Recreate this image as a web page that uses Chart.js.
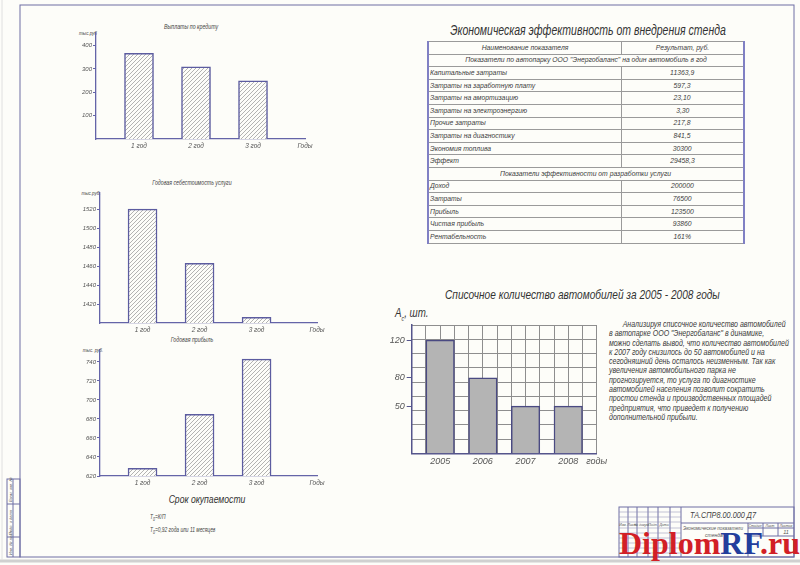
<!DOCTYPE html>
<html>
<head>
<meta charset="utf-8">
<script src="https://cdn.jsdelivr.net/npm/chart.js@4.4.1/dist/chart.umd.min.js"></script>
<style>
  body { margin: 0; background: #fff; }
  #sheet { position: relative; width: 800px; height: 565px; background: #fdfdf9; overflow: hidden;
    font-family: 'Liberation Sans', Arial, sans-serif; font-style: italic; color: #444; }
  .t { position: absolute; white-space: nowrap; line-height: 1; }
  .c { transform: translateX(-50%) scaleX(0.75); }
  .n { transform: scaleX(0.75); transform-origin: left center; }
  canvas { position: absolute; }
  #tbl { position: absolute; left: 427px; top: 41px; width: 318px; border-collapse: collapse; font-size: 8px; color: #3c3c3c; }
  #tbl td { height: 11.6px; padding: 0 1px; border: 0.6px solid #9a9a9a; line-height: 1; white-space: nowrap; }
  #tbl td span { display: inline-block; transform: scaleX(0.85); transform-origin: left center; }
  #tbl td.v, #tbl td.h { text-align: center; }
  #tbl td.v span, #tbl td.h span { transform-origin: center center; }
  #tbl tr td:first-child { border-left: 2px solid #8080c4; width: 190px; }
  #tbl tr td:last-child { border-right: 2px solid #8080c4; }
  #txt { position: absolute; left: 609px; top: 320px; font-size: 8.4px; line-height: 9.3px; color: #3a3a3a;
    white-space: nowrap; transform: scaleX(0.84); transform-origin: left top; }
</style>
</head>
<body>
<div id="sheet">
  <svg width="800" height="565" style="position:absolute;left:0;top:0">
    <g fill="none" stroke="#6e6ea4" stroke-width="1">
      <rect x="20" y="5" width="774" height="552"/>
      <rect x="7" y="479" width="13" height="78"/>
      <line x1="13" y1="479" x2="13" y2="557"/>
      <line x1="7" y1="504" x2="20" y2="504"/>
      <line x1="7" y1="537" x2="20" y2="537"/>
      <rect x="619" y="507" width="175" height="50"/>
      <line x1="628" y1="507" x2="628" y2="557"/>
      <line x1="637" y1="507" x2="637" y2="557"/>
      <line x1="648" y1="507" x2="648" y2="557"/>
      <line x1="658" y1="507" x2="658" y2="557"/>
      <line x1="670" y1="507" x2="670" y2="557"/>
      <line x1="681" y1="507" x2="681" y2="557"/>
      <line x1="681" y1="523" x2="794" y2="523"/>
      <line x1="748" y1="523" x2="748" y2="557"/>
      <line x1="763" y1="523" x2="763" y2="536"/>
      <line x1="778" y1="523" x2="778" y2="536"/>
      <line x1="748" y1="528" x2="794" y2="528"/>
      <line x1="748" y1="536" x2="794" y2="536"/>
    </g>
    <g stroke="#8a8ab0" stroke-width="0.5">
      <line x1="619" y1="512" x2="681" y2="512"/>
      <line x1="619" y1="517" x2="681" y2="517"/>
      <line x1="619" y1="522" x2="681" y2="522"/>
      <line x1="619" y1="528" x2="681" y2="528"/>
      <line x1="619" y1="533" x2="681" y2="533"/>
      <line x1="619" y1="538" x2="681" y2="538"/>
      <line x1="619" y1="543" x2="681" y2="543"/>
      <line x1="619" y1="548" x2="681" y2="548"/>
      <line x1="619" y1="553" x2="681" y2="553"/>
    </g>
    <line x1="0" y1="561" x2="800" y2="561" stroke="#d0d0d0" stroke-width="3"/>
    <line x1="2" y1="0" x2="2" y2="560" stroke="#e0e0e0" stroke-width="1"/>
    <g font-family="Liberation Sans, sans-serif" font-style="italic" fill="#555">
      <text x="723" y="518" font-size="8.5" text-anchor="middle" fill="#444" textLength="66" lengthAdjust="spacingAndGlyphs">ТА.СПР8.00.000 Д7</text>
      <text x="683" y="530" font-size="5" textLength="60" lengthAdjust="spacingAndGlyphs">Экономические показатели</text>
      <text x="705" y="537" font-size="5">стенда</text>
      <text x="755" y="527" font-size="3.5" text-anchor="middle">Стадия</text>
      <text x="770" y="527" font-size="3.5" text-anchor="middle">Лист</text>
      <text x="786" y="527" font-size="3.5" text-anchor="middle">Листов</text>
      <text x="786" y="534" font-size="5.5" text-anchor="middle">11</text>
      <text x="623" y="526" font-size="3.5" text-anchor="middle">Изм.</text>
      <text x="632" y="526" font-size="3.5" text-anchor="middle">Лист</text>
      <text x="642" y="526" font-size="3.5" text-anchor="middle">№ докум.</text>
      <text x="653" y="526" font-size="3.5" text-anchor="middle">Подп.</text>
      <text x="664" y="526" font-size="3.5" text-anchor="middle">Дата</text>
      <text transform="translate(12,555) rotate(-90)" font-size="4">Инв. № подл.</text>
      <text transform="translate(12,535) rotate(-90)" font-size="4">Подп. и дата</text>
      <text transform="translate(12,502) rotate(-90)" font-size="4">Взам. инв. №</text>
    </g>
  </svg>

  <!-- left column titles -->
  <div class="t c" style="left:191px;top:23px;font-size:7px">Выплаты по кредиту</div>
  <div class="t c" style="left:88px;top:30px;font-size:6px">тыс.руб</div>
  <div class="t c" style="left:192px;top:179px;font-size:7px">Годовая себестоимость услуги</div>
  <div class="t c" style="left:91px;top:190px;font-size:6px">тыс.руб.</div>
  <div class="t c" style="left:192px;top:336px;font-size:7px">Годовая прибыль</div>
  <div class="t c" style="left:93px;top:347px;font-size:6px">тыс. руб.</div>
  <div class="t c" style="left:207px;top:494px;font-size:11.5px;color:#333">Срок окупаемости</div>
  <div class="t n" style="left:150px;top:514px;font-size:6.5px">Т<sub style="font-size:4.5px">0</sub>=К/П</div>
  <div class="t n" style="left:150px;top:527px;font-size:6.5px">Т<sub style="font-size:4.5px">0</sub>=0,92 года или 11 месяцев</div>

  <!-- table -->
  <div class="t c" style="left:588px;top:23px;font-size:14px;color:#333">Экономическая эффективность от внедрения стенда</div>
  <table id="tbl"></table>

  <!-- fleet chart texts -->
  <div class="t n" style="left:445px;top:288px;font-size:13.5px;color:#333">Списочное количество автомобилей за 2005 - 2008 годы</div>
  <div class="t n" style="left:395px;top:306px;font-size:13px;color:#333">А<sub style="font-size:7px">с</sub>, шт.</div>
  <div id="txt">
    &nbsp;&nbsp;&nbsp;&nbsp;&nbsp;&nbsp;&nbsp;Анализируя списочное количество автомобилей<br>
    в автопарке ООО "Энергобаланс" в динамике,<br>
    можно сделать вывод, что количество автомобилей<br>
    к 2007 году снизилось до 50 автомобилей и на<br>
    сегодняшний день осталось неизменным. Так как<br>
    увеличения автомобильного парка не<br>
    прогнозируется, то услуга по диагностике<br>
    автомобилей населения позволит сократить<br>
    простои стенда и производственных площадей<br>
    предприятия, что приведет к получению<br>
    дополнительной прибыли.
  </div>

  <canvas id="c1" width="290" height="140" style="left:40px;top:20px"></canvas>
  <canvas id="c2" width="300" height="158" style="left:40px;top:185px"></canvas>
  <canvas id="c3" width="300" height="155" style="left:40px;top:342px"></canvas>
  <canvas id="c4" width="250" height="160" style="left:370px;top:315px"></canvas>

  <div class="t" style="left:619px;top:527px;font-family:'Liberation Serif','DejaVu Serif',serif;font-style:normal;font-weight:bold;font-size:32px;color:#d21f26">Diplom<span style="color:#233e9c">RF</span>.ru</div>
</div>

<script>
// left charts
const yearLabels = ["1 год", "2 год", "3 год"];
const axisName = "Годы";
const creditValues = [367, 309, 249];
const creditTicks = [100, 200, 300, 400];
const costValues = [1520, 1463, 1406];
const costTicks = [1420, 1440, 1460, 1480, 1500, 1520];
const profitValues = [628, 685, 743];
const profitTicks = [620, 640, 660, 680, 700, 720, 740];

// fleet chart
const fleetYears = ["2005", "2006", "2007", "2008"];
const fleetValues = [120, 80, 50, 50];
const fleetTicks = [50, 80, 120];

// table
const tableHead = ["Наименование показателя", "Результат, руб."];
const fleetSection = "Показатели по автопарку ООО \"Энергобаланс\" на один автомобиль в год";
const fleetRows = ["Капитальные затраты", "Затраты на заработную плату", "Затраты на амортизацию",
  "Затраты на электроэнергию", "Прочие затраты", "Затраты на диагностику", "Экономия топлива", "Эффект"];
const fleetResults = ["11363,9", "597,3", "23,10", "3,30", "217,8", "841,5", "30300", "29458,3"];
const serviceSection = "Показатели эффективности от разработки услуги";
const serviceRows = ["Доход", "Затраты", "Прибыль", "Чистая прибыль", "Рентабельность"];
const serviceResults = ["200000", "76500", "123500", "93860", "161%"];

const SEP = "border-right:2px solid #8080c4";
let html = `<tr><td class="h"><span>${tableHead[0]}</span></td><td class="h"><span>${tableHead[1]}</span></td></tr>`;
html += `<tr><td class="h" colspan="2" style="${SEP}"><span>${fleetSection}</span></td></tr>`;
fleetRows.forEach((r, i) => { html += `<tr><td><span>${r}</span></td><td class="v"><span>${fleetResults[i]}</span></td></tr>`; });
html += `<tr><td class="h" colspan="2" style="${SEP}"><span>${serviceSection}</span></td></tr>`;
serviceRows.forEach((r, i) => { html += `<tr><td><span>${r}</span></td><td class="v"><span>${serviceResults[i]}</span></td></tr>`; });
document.getElementById("tbl").innerHTML = html;

const FONT = "'Liberation Sans', Arial, sans-serif";
const AXIS = "#6464a8";
const GRID = "#8e8e8e";

function hatchPattern() {
  const c = document.createElement("canvas");
  c.width = 4; c.height = 4;
  const g = c.getContext("2d");
  g.fillStyle = "#fdfdf9"; g.fillRect(0, 0, 4, 4);
  g.strokeStyle = "#a0a0a0"; g.lineWidth = 0.8;
  g.beginPath();
  g.moveTo(0, 4); g.lineTo(4, 0);
  g.moveTo(-1, 1); g.lineTo(1, -1);
  g.moveTo(3, 5); g.lineTo(5, 3);
  g.stroke();
  return g.createPattern(c, "repeat");
}

// one of the three small hatched bar charts on the left
function sideChart(id, values, ticks, yMin, yMax, xMin, xMax, yW, pad, xH) {
  new Chart(document.getElementById(id), {
    type: "bar",
    data: {
      datasets: [{
        data: values.map((v, i) => ({ x: i + 1, y: v })),
        backgroundColor: hatchPattern(),
        borderColor: "#5c5ca0",
        borderWidth: 1.5,
        barThickness: 29
      }]
    },
    options: {
      responsive: false, animation: false,
      layout: { padding: { top: pad[0], right: pad[1], left: 0, bottom: 0 } },
      plugins: { legend: { display: false }, tooltip: { enabled: false } },
      scales: {
        x: {
          type: "linear", min: xMin, max: xMax, offset: false,
          afterBuildTicks: s => { s.ticks = [1, 2, 3, xMax].map(v => ({ value: v })); },
          afterFit: s => { s.height = xH; s.paddingLeft = 0; s.paddingRight = 0; },
          grid: { display: false, drawTicks: false, offset: false },
          border: { color: AXIS, width: 1.3 },
          ticks: { padding: 3, color: "#555", font: { family: FONT, size: 6.5, style: "italic" },
            callback: v => yearLabels[v - 1] || axisName }
        },
        y: {
          min: yMin, max: yMax,
          afterBuildTicks: s => { s.ticks = ticks.map(v => ({ value: v })); },
          afterFit: s => { s.width = yW; s.paddingTop = 0; s.paddingBottom = 0; },
          grid: { drawOnChartArea: false, tickLength: 3, tickColor: AXIS },
          border: { color: AXIS, width: 1.3 },
          ticks: { padding: 1, color: "#555", font: { family: FONT, size: 6, style: "italic" },
            callback: v => String(v) }
        }
      }
    }
  });
}

sideChart("c1", creditValues, creditTicks, 0, 454, 0.2456, 3.912, 56, [13, 25], 21);
sideChart("c2", costValues, costTicks, 1400, 1537, 0.254, 4.06, 60, [8, 23], 20);
sideChart("c3", profitValues, profitTicks, 620, 752.6, 0.254, 4.06, 60, [8, 23], 21);

// fleet size chart on squared grid (grid cells independent of the value axis)
new Chart(document.getElementById("c4"), {
  type: "bar",
  data: {
    datasets: [{
      data: fleetValues.map((v, i) => ({ x: 2 + 3 * i, y: v })),
      yAxisID: "y",
      backgroundColor: "#b4b4b4",
      borderColor: "#4a4a82",
      borderWidth: 1.5,
      barThickness: 28.5
    }]
  },
  options: {
    responsive: false, animation: false,
    layout: { padding: { top: 10, right: 23.3, left: 0, bottom: 0 } },
    plugins: { legend: { display: false }, tooltip: { enabled: false } },
    scales: {
      x: {
        type: "linear", min: 0, max: 13, offset: false,
        afterFit: s => { s.height = 21.7; s.paddingLeft = 0; s.paddingRight = 0; },
        grid: { color: GRID, lineWidth: 1, drawTicks: false, offset: false },
        border: { color: "#55558c", width: 1.5 },
        ticks: { stepSize: 1, padding: 3, autoSkip: false, maxRotation: 0, color: "#555", font: { family: FONT, size: 9, style: "italic" },
          callback: v => (v === 13 ? "годы" : ((v - 2) % 3 === 0 ? fleetYears[(v - 2) / 3] || "" : "")) }
      },
      yg: {
        type: "linear", position: "left", min: 0, max: 9,
        afterFit: s => { s.width = 0; },
        grid: { color: GRID, lineWidth: 1, drawTicks: false },
        border: { display: false },
        ticks: { stepSize: 1, display: false }
      },
      y: {
        position: "left", min: 0, max: 136,
        afterBuildTicks: s => { s.ticks = fleetTicks.map(v => ({ value: v })); },
        afterFit: s => { s.width = 41.7; s.paddingTop = 0; s.paddingBottom = 0; },
        grid: { drawOnChartArea: false, tickLength: 5, tickColor: "#55558c" },
        border: { color: "#55558c", width: 1.5 },
        ticks: { padding: 2, color: "#555", font: { family: FONT, size: 9, style: "italic" } }
      }
    }
  }
});
</script>
</body>
</html>
